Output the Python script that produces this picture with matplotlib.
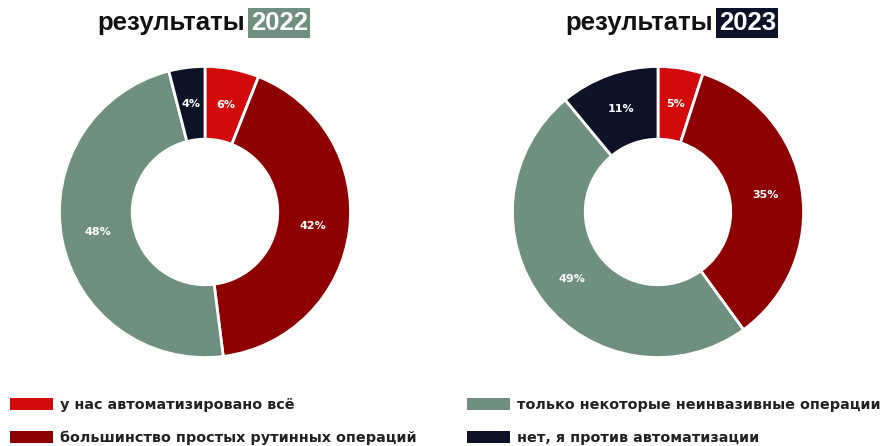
import matplotlib.pyplot as plt
from matplotlib.patches import Patch

# survey answers, share of respondents in percent
categories = [
    "у нас автоматизировано всё",
    "большинство простых рутинных операций",
    "только некоторые неинвазивные операции",
    "нет, я против автоматизации",
]
values_2022 = [6, 42, 48, 4]
values_2023 = [5, 35, 49, 11]
years = ["2022", "2023"]

colors = ["#d20a0a", "#8e0000", "#6f9080", "#0c1326"]
year_box = ["#6f9080", "#0c1326"]

W, H = 886, 446
fig = plt.figure(figsize=(W / 100, H / 100), dpi=100)


def donut(cx, cy, r, values):
    # cx, cy, r in pixels, cy from the top edge
    ax = fig.add_axes([(cx - r) / W, (H - cy - r) / H, 2 * r / W, 2 * r / H])
    ax.pie(values, colors=colors, startangle=90, counterclock=False,
           radius=1, wedgeprops=dict(width=0.5, edgecolor="white", linewidth=2),
           labels=[f"{v}%" for v in values], labeldistance=0.75,
           textprops=dict(color="white", fontsize=8, fontweight="bold",
                          ha="center", va="center"))
    ax.set_xlim(-1.01, 1.01)
    ax.set_ylim(-1.01, 1.01)
    ax.set_aspect("equal")
    ax.axis("off")
    return ax


donut(205, 212, 147, values_2022)
donut(658, 212, 147, values_2023)

# titles: "результаты" followed by the year on a coloured box
renderer = fig.canvas.get_renderer()
title_font = dict(fontsize=18.5, fontweight="bold", family="Liberation Sans")
for x_word, year, bg in [(97, years[0], year_box[0]),
                         (565, years[1], year_box[1])]:
    word = fig.text(x_word / W, 1 - 23 / H, "результаты", color="#111111",
                    ha="left", va="center", **title_font)
    x_end = word.get_window_extent(renderer).x1
    fig.text((x_end + 6) / W, 1 - 23 / H, year, color="white",
             ha="left", va="center", **title_font,
             bbox=dict(boxstyle="square,pad=0.1", facecolor=bg, edgecolor="none"))

handles = [Patch(facecolor=c, edgecolor="none") for c in colors]
leg_kw = dict(frameon=False, loc="upper left",
              handlelength=3.0, handleheight=0.9, handletextpad=0.45,
              labelspacing=1.3, borderaxespad=0, borderpad=0,
              prop=dict(weight="bold", size=10.4, family="DejaVu Sans"))
leg1 = fig.legend(handles[:2], categories[:2],
                  bbox_to_anchor=(10 / W, 1 - 398 / H), **leg_kw)
leg2 = fig.legend(handles[2:], categories[2:],
                  bbox_to_anchor=(467 / W, 1 - 398 / H), **leg_kw)
for leg in (leg1, leg2):
    for t in leg.get_texts():
        t.set_color("#222222")

fig.savefig("out.png", dpi=100, facecolor="white")
